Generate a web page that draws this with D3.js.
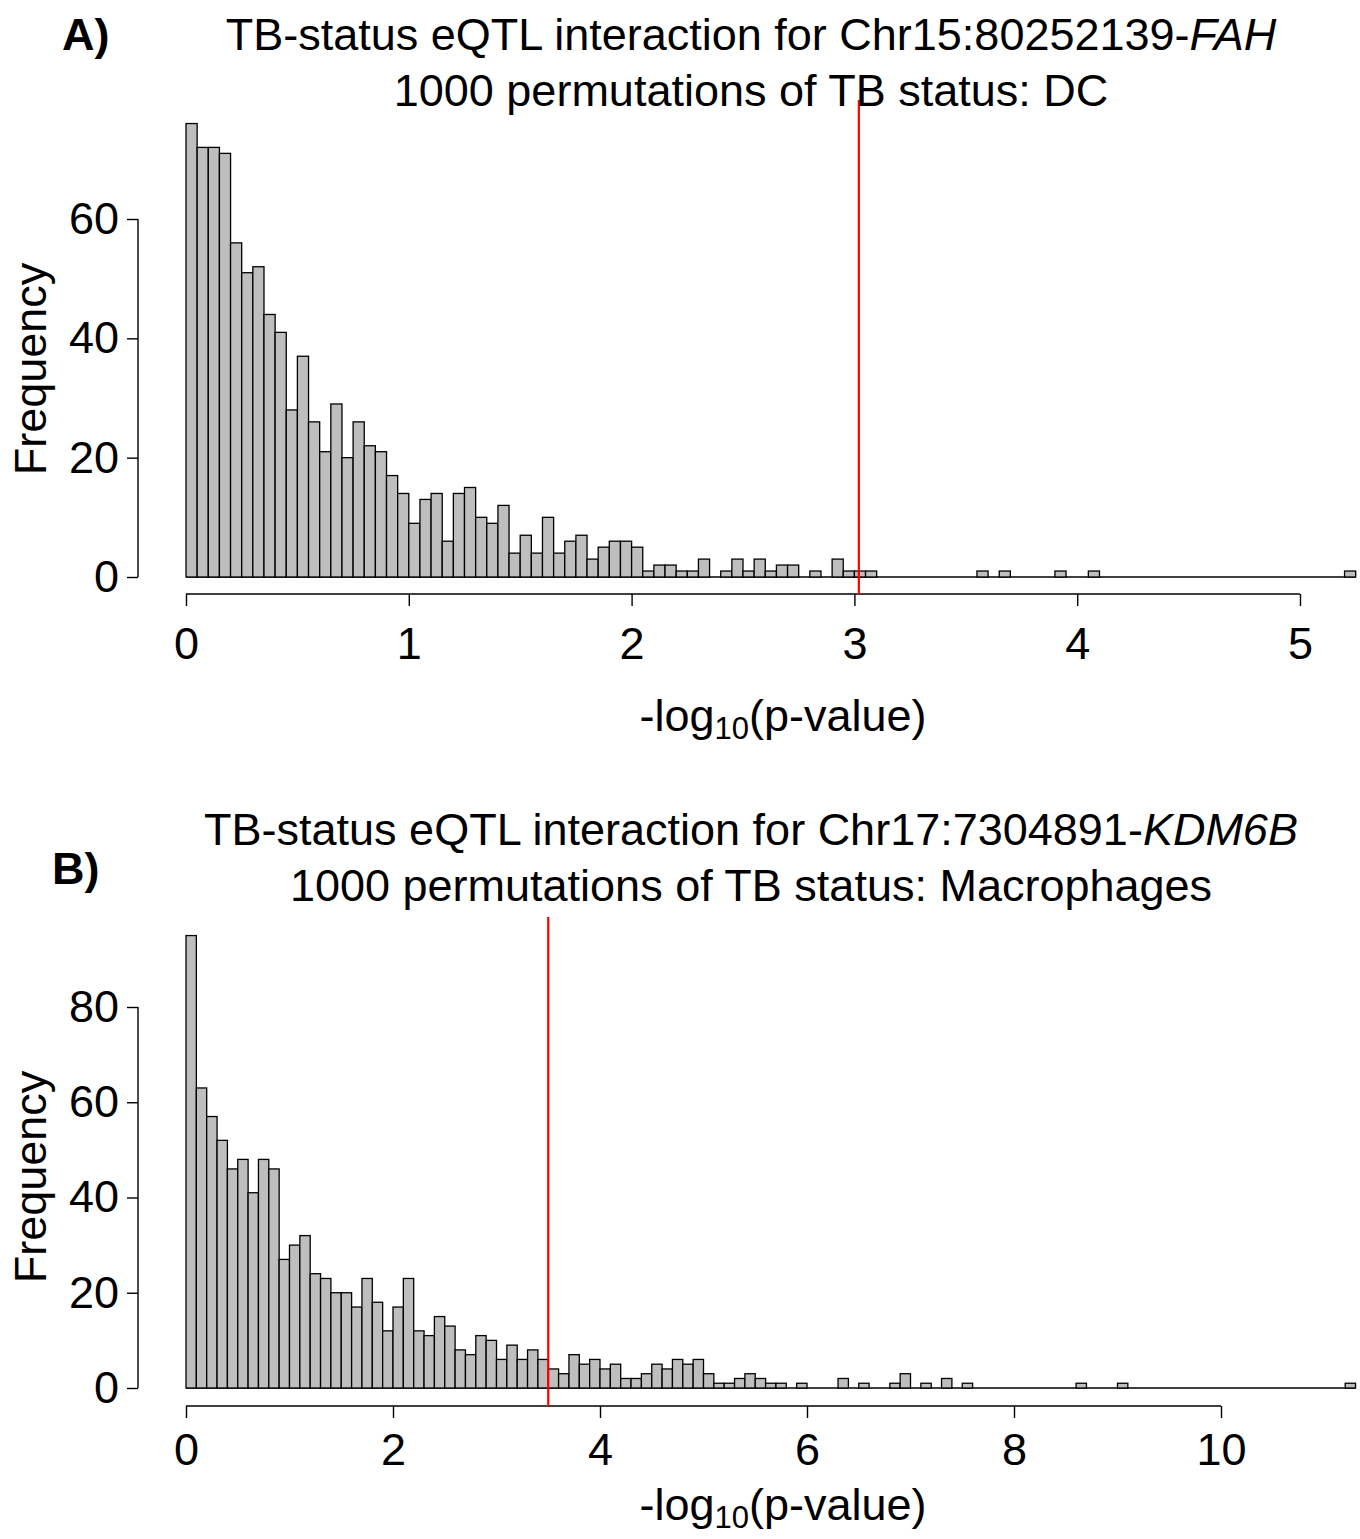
<!DOCTYPE html>
<html>
<head>
<meta charset="utf-8">
<script src="https://d3js.org/d3.v7.min.js"></script>
<style>
  body { margin: 0; background: #fff; }
  svg { display: block; font-family: "Liberation Sans", Arial, sans-serif; }
  .bar { fill: #bebebe; stroke: #000; stroke-width: 1.3px; }
  .axis line, .axis path { stroke: #000; stroke-width: 1.4px; }
</style>
</head>
<body>
<svg id="chart" width="1360" height="1539"></svg>
<script>
// Panel A: DC, bins of 0.05
const binWidthA = 0.05;
const countsA = [
  76, 72, 72, 71, 56, 51, 52, 44, 41, 28, 37, 26, 21, 29, 20, 26, 22, 21, 17, 14,
  9, 13, 14, 6, 14, 15, 10, 9, 12, 4, 7, 4, 10, 4, 6, 7, 3, 5, 6, 6,
  5, 1, 2, 2, 1, 1, 3, 0, 1, 3, 1, 3, 1, 2, 2, 0, 1, 0, 3, 1,
  1, 1, 0, 0, 0, 0, 0, 0, 0, 0, 0, 1, 0, 1, 0, 0, 0, 0, 1, 0,
  0, 1, 0, 0, 0, 0, 0, 0, 0, 0, 0, 0, 0, 0, 0, 0, 0, 0, 0, 0,
  0, 0, 0, 0, 1
];
const xTicksA = [0, 1, 2, 3, 4, 5];
const yTicksA = [0, 20, 40, 60];
const observedA = 3.02;

// Panel B: Macrophages, bins of 0.1
const binWidthB = 0.1;
const countsB = [
  95, 63, 57, 52, 46, 48, 41, 48, 46, 27, 30, 32, 24, 23, 20, 20, 17, 23, 18, 12,
  17, 23, 12, 11, 15, 13, 8, 7, 11, 10, 6, 9, 6, 8, 6, 4, 3, 7, 5, 6,
  4, 5, 2, 2, 3, 5, 4, 6, 5, 6, 3, 1, 1, 2, 3, 2, 1, 1, 0, 1,
  0, 0, 0, 2, 0, 1, 0, 0, 1, 3, 0, 1, 0, 2, 0, 1, 0, 0, 0, 0,
  0, 0, 0, 0, 0, 0, 1, 0, 0, 0, 1, 0, 0, 0, 0, 0, 0, 0, 0, 0,
  0, 0, 0, 0, 0, 0, 0, 0, 0, 0, 0, 0, 1
];
const xTicksB = [0, 2, 4, 6, 8, 10];
const yTicksB = [0, 20, 40, 60, 80];
const observedB = 3.5;

const svg = d3.select('#chart');
const FONT = 45;
const FAMILY = '"Liberation Sans", Arial, sans-serif';

function drawPanel(p) {
  const g = svg.append('g');

  const x = d3.scaleLinear().domain([0, p.xTicks[p.xTicks.length - 1]]).range([186, p.xEnd]);
  const y = d3.scaleLinear().domain([0, p.yTicks[p.yTicks.length - 1]]).range([p.y0, p.yTop]);

  const bins = p.counts.map((c, i) => ({ x0: i * p.binWidth, x1: (i + 1) * p.binWidth, n: c }));

  // baseline under zero-count bins (R draws them flat)
  g.append('line')
    .attr('x1', x(0)).attr('x2', x(bins[bins.length - 1].x1))
    .attr('y1', y(0)).attr('y2', y(0))
    .attr('stroke', '#000').attr('stroke-width', 1.3);

  g.selectAll('rect.bar')
    .data(bins.filter(b => b.n > 0))
    .join('rect')
    .attr('class', 'bar')
    .attr('x', d => x(d.x0))
    .attr('width', d => x(d.x1) - x(d.x0))
    .attr('y', d => y(d.n))
    .attr('height', d => y(0) - y(d.n));

  // x axis, R style (offset below the bars)
  const xAxis = g.append('g').attr('class', 'axis')
    .attr('transform', `translate(0,${p.xAxisY})`)
    .call(d3.axisBottom(x).tickValues(p.xTicks).tickFormat(d3.format('d'))
      .tickSize(12).tickSizeOuter(0).tickPadding(p.xPad));
  xAxis.select('.domain').attr('d', `M${x(0)},0H${x(p.xTicks[p.xTicks.length - 1])}`);
  xAxis.selectAll('text').attr('font-size', FONT).attr('fill', '#000').attr('font-family', FAMILY);

  const yAxis = g.append('g').attr('class', 'axis')
    .attr('transform', 'translate(138,0)')
    .call(d3.axisLeft(y).tickValues(p.yTicks).tickFormat(d3.format('d'))
      .tickSize(11).tickSizeOuter(0).tickPadding(8));
  yAxis.select('.domain').attr('d', `M0,${y(0)}V${y(p.yTicks[p.yTicks.length - 1])}`);
  yAxis.selectAll('text').attr('font-size', FONT).attr('fill', '#000').attr('font-family', FAMILY);

  // observed statistic
  g.append('line')
    .attr('x1', x(p.observed)).attr('x2', x(p.observed))
    .attr('y1', p.redTop).attr('y2', p.xAxisY)
    .attr('stroke', '#ff0000').attr('stroke-width', 2.2);

  // titles
  const t1 = g.append('text').attr('x', 751).attr('y', p.titleY).attr('text-anchor', 'middle')
    .attr('font-size', FONT);
  t1.append('tspan').text(p.title);
  t1.append('tspan').attr('font-style', 'italic').text(p.gene);
  g.append('text').attr('x', 751).attr('y', p.titleY + 56).attr('text-anchor', 'middle')
    .attr('font-size', FONT).text(p.subtitle);

  g.append('text').attr('x', p.tagX).attr('y', p.tagY).attr('font-size', FONT)
    .attr('font-weight', 'bold').text(p.tag);

  // axis labels
  const xl = g.append('text').attr('x', 783).attr('y', p.xLabelY).attr('text-anchor', 'middle')
    .attr('font-size', FONT);
  xl.append('tspan').text('-log');
  xl.append('tspan').attr('font-size', 31).attr('dy', 8).text('10');
  xl.append('tspan').attr('dy', -8).text('(p-value)');

  g.append('text')
    .attr('transform', `translate(46,${p.yLabelMid}) rotate(-90)`)
    .attr('text-anchor', 'middle').attr('font-size', FONT).text('Frequency');
}

drawPanel({
  counts: countsA, binWidth: binWidthA, xTicks: xTicksA, yTicks: yTicksA, observed: observedA,
  xEnd: 1300, y0: 577, yTop: 219, xAxisY: 594, redTop: 100, xPad: 21,
  title: 'TB-status eQTL interaction for Chr15:80252139-', gene: 'FAH',
  subtitle: '1000 permutations of TB status: DC', titleY: 50,
  tag: 'A)', tagX: 62, tagY: 50, xLabelY: 731, yLabelMid: 369
});

drawPanel({
  counts: countsB, binWidth: binWidthB, xTicks: xTicksB, yTicks: yTicksB, observed: observedB,
  xEnd: 1221, y0: 1388, yTop: 1007, xAxisY: 1406, redTop: 917, xPad: 15,
  title: 'TB-status eQTL interaction for Chr17:7304891-', gene: 'KDM6B',
  subtitle: '1000 permutations of TB status: Macrophages', titleY: 845,
  tag: 'B)', tagX: 52, tagY: 884, xLabelY: 1520, yLabelMid: 1177
});
</script>
</body>
</html>
